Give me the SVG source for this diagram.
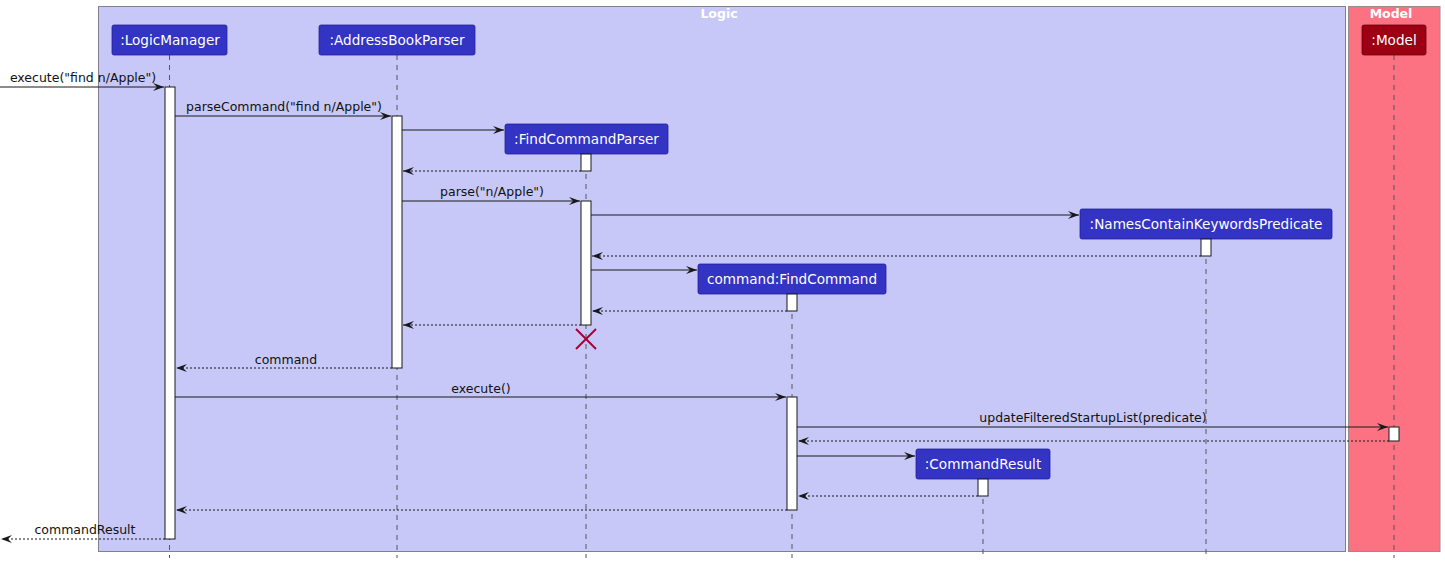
<svg xmlns="http://www.w3.org/2000/svg" width="1445" height="563" viewBox="0 0 1445 563">
<style>
.txt{font-family:"DejaVu Sans",sans-serif;font-size:12.5px;fill:#111;text-anchor:middle}
.ptxt{font-family:"DejaVu Sans",sans-serif;font-size:13.6px;fill:#fff;text-anchor:middle}
.btitle{font-family:"DejaVu Sans",sans-serif;font-size:12.5px;font-weight:bold;fill:#fff;text-anchor:middle}
.part{fill:#3333C4;stroke:#22229A;stroke-width:0.8}
.life{stroke:#555;stroke-width:1;stroke-dasharray:5,5}
.act{fill:#fff;stroke:#181818;stroke-width:1}
.msg{stroke:#181818;stroke-width:1;fill:none}
.ret{stroke:#181818;stroke-width:1;fill:none;stroke-dasharray:2,2}
</style>
<defs>
<marker id="ah" viewBox="0 0 12 10" refX="11" refY="5" markerWidth="12" markerHeight="10" markerUnits="userSpaceOnUse" orient="auto">
<polygon points="0,1 11,5 0,9 4,5" fill="#181818"/>
</marker>
</defs>
<g id="box-logic">
<rect x="98.5" y="6.5" width="1247" height="545" fill="#C8C8F8" stroke="#7F7F8F" stroke-width="1"/>
<text class="btitle" x="719" y="18">Logic</text>
</g>
<g id="box-model">
<rect x="1348.5" y="6.5" width="91.5" height="545" fill="#FC7282" stroke="#9A8A8C" stroke-width="1"/>
<text class="btitle" x="1391" y="18">Model</text>
</g>
<g id="lifelines">
<line class="life" x1="169.5" y1="55" x2="169.5" y2="558"/>
<line class="life" x1="397" y1="55" x2="397" y2="558"/>
<line class="life" x1="586" y1="154" x2="586" y2="558"/>
<line class="life" x1="1206" y1="239" x2="1206" y2="558"/>
<line class="life" x1="792" y1="294" x2="792" y2="558"/>
<line class="life" x1="983" y1="479" x2="983" y2="558"/>
<line class="life" x1="1394" y1="55" x2="1394" y2="558"/>
</g>
<g id="p-logicmanager">
<rect class="part" x="112" y="25" width="115" height="30" rx="2"/>
<text class="ptxt" x="170" y="45">:LogicManager</text>
</g>
<g id="p-addressbookparser">
<rect class="part" x="319" y="25" width="156" height="30" rx="2"/>
<text class="ptxt" x="397" y="45">:AddressBookParser</text>
</g>
<g id="p-findcommandparser">
<rect class="part" x="505" y="124" width="163" height="30" rx="2"/>
<text class="ptxt" x="586.5" y="144">:FindCommandParser</text>
</g>
<g id="p-predicate">
<rect class="part" x="1080" y="209" width="252" height="30" rx="2"/>
<text class="ptxt" x="1206" y="229">:NamesContainKeywordsPredicate</text>
</g>
<g id="p-findcommand">
<rect class="part" x="698" y="264" width="188" height="30" rx="2"/>
<text class="ptxt" x="792" y="284">command:FindCommand</text>
</g>
<g id="p-commandresult">
<rect class="part" x="916" y="449" width="134" height="30" rx="2"/>
<text class="ptxt" x="983" y="469">:CommandResult</text>
</g>
<g id="p-model">
<rect x="1362" y="25" width="64" height="30" rx="2" fill="#9D0012" stroke="#6A000C" stroke-width="0.8"/>
<text class="ptxt" x="1394" y="45">:Model</text>
</g>
<g id="activations">
<rect class="act" x="165" y="87" width="10" height="452"/>
<rect class="act" x="392" y="116" width="10" height="252"/>
<rect class="act" x="581" y="154" width="10" height="17"/>
<rect class="act" x="581" y="201" width="10" height="124"/>
<rect class="act" x="1201" y="239" width="10" height="17"/>
<rect class="act" x="787" y="294" width="10" height="17"/>
<rect class="act" x="787" y="397" width="10" height="113"/>
<rect class="act" x="1389" y="427" width="10" height="14"/>
<rect class="act" x="978" y="479" width="10" height="17"/>
</g>
<g id="connectors">
<line class="msg" x1="0" y1="87" x2="164" y2="87" marker-end="url(#ah)"/>
<text class="txt" x="83" y="82">execute("find n/Apple")</text>
<line class="msg" x1="175" y1="116" x2="391" y2="116" marker-end="url(#ah)"/>
<text class="txt" x="284" y="111">parseCommand("find n/Apple")</text>
<line class="msg" x1="402" y1="130" x2="504" y2="130" marker-end="url(#ah)"/>
<line class="ret" x1="581" y1="171" x2="403" y2="171" marker-end="url(#ah)"/>
<line class="msg" x1="402" y1="201" x2="580" y2="201" marker-end="url(#ah)"/>
<text class="txt" x="492" y="196">parse("n/Apple")</text>
<line class="msg" x1="591" y1="215" x2="1079" y2="215" marker-end="url(#ah)"/>
<line class="ret" x1="1201" y1="256" x2="592" y2="256" marker-end="url(#ah)"/>
<line class="msg" x1="591" y1="270" x2="697" y2="270" marker-end="url(#ah)"/>
<line class="ret" x1="787" y1="311" x2="592" y2="311" marker-end="url(#ah)"/>
<line class="ret" x1="581" y1="325" x2="403" y2="325" marker-end="url(#ah)"/>
<g id="destroy" stroke="#A80036" stroke-width="2">
<line x1="576" y1="329" x2="596" y2="349"/>
<line x1="596" y1="329" x2="576" y2="349"/>
</g>
<line class="ret" x1="392" y1="368" x2="176" y2="368" marker-end="url(#ah)"/>
<text class="txt" x="286" y="364">command</text>
<line class="msg" x1="175" y1="397" x2="786" y2="397" marker-end="url(#ah)"/>
<text class="txt" x="481" y="393">execute()</text>
<line class="msg" x1="797" y1="427" x2="1388" y2="427" marker-end="url(#ah)"/>
<text class="txt" x="1093" y="422">updateFilteredStartupList(predicate)</text>
<line class="ret" x1="1389" y1="441" x2="798" y2="441" marker-end="url(#ah)"/>
<line class="msg" x1="797" y1="456" x2="915" y2="456" marker-end="url(#ah)"/>
<line class="ret" x1="978" y1="496" x2="798" y2="496" marker-end="url(#ah)"/>
<line class="ret" x1="787" y1="510" x2="176" y2="510" marker-end="url(#ah)"/>
<line class="ret" x1="165" y1="539" x2="1" y2="539" marker-end="url(#ah)"/>
<text class="txt" x="85" y="534">commandResult</text>
</g>
</svg>
